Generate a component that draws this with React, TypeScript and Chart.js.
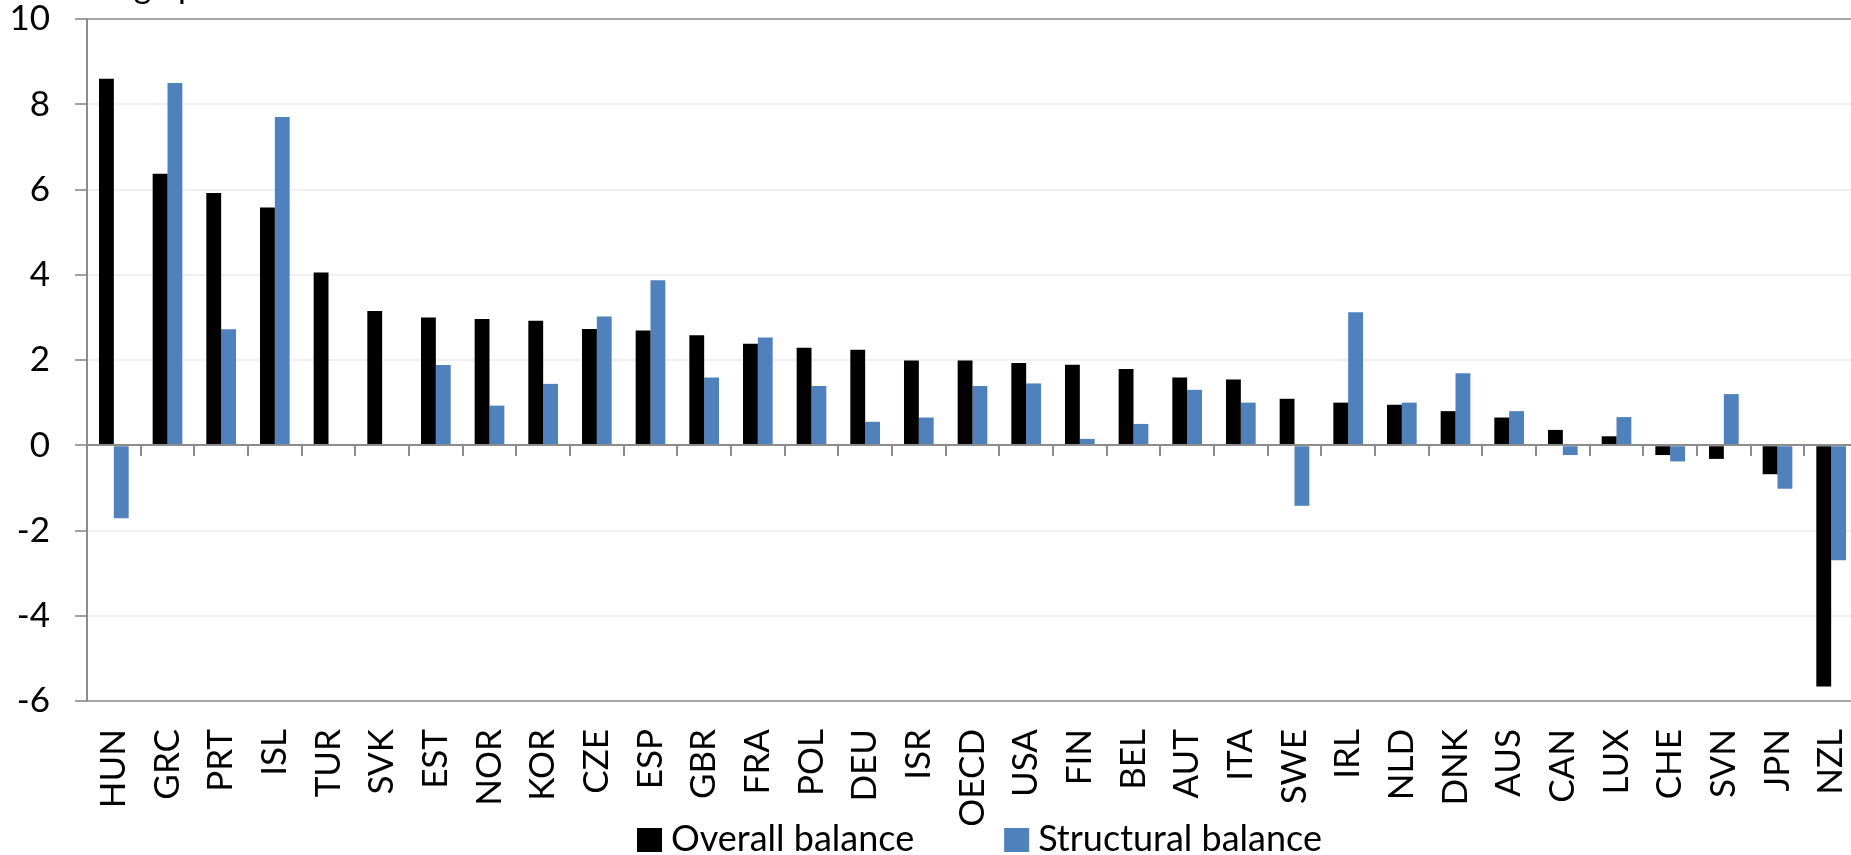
import React, { useEffect, useRef } from 'react';
import { Chart, registerables } from 'chart.js';

Chart.register(...registerables);

// ---- Data ----
const categories = [
  'HUN', 'GRC', 'PRT', 'ISL', 'TUR', 'SVK', 'EST', 'NOR', 'KOR', 'CZE', 'ESP',
  'GBR', 'FRA', 'POL', 'DEU', 'ISR', 'OECD', 'USA', 'FIN', 'BEL', 'AUT', 'ITA',
  'SWE', 'IRL', 'NLD', 'DNK', 'AUS', 'CAN', 'LUX', 'CHE', 'SVN', 'JPN', 'NZL',
];

const overallBalance = [
  8.6, 6.37, 5.92, 5.58, 4.05, 3.15, 3.0, 2.96, 2.92, 2.73, 2.69,
  2.58, 2.38, 2.29, 2.24, 1.99, 1.99, 1.93, 1.89, 1.79, 1.59, 1.54,
  1.09, 1.0, 0.95, 0.8, 0.65, 0.36, 0.21, -0.23, -0.32, -0.68, -5.66,
];

const structuralBalance: (number | null)[] = [
  -1.71, 8.5, 2.72, 7.7, null, null, 1.88, 0.93, 1.44, 3.02, 3.87,
  1.59, 2.53, 1.39, 0.55, 0.65, 1.39, 1.45, 0.15, 0.5, 1.3, 1.0,
  -1.42, 3.12, 1.0, 1.69, 0.8, -0.23, 0.66, -0.38, 1.2, -1.02, -2.7,
];

const seriesLabels = ['Overall balance', 'Structural balance'];
const seriesColors = ['#000000', '#4F81BD'];
const unitLabel = 'Percentage points';
const yMin = -6;
const yMax = 10;
const yStep = 2;

const FONT = 'Lato';

// Category tick marks hanging below the zero line, plus the zero line itself
const zeroAxisPlugin = {
  id: 'zeroAxis',
  afterDatasetsDraw(chart: any) {
    const xs = chart.scales.x;
    const ys = chart.scales.y;
    const ctx = chart.ctx;
    const n = chart.data.labels.length;
    const y0 = Math.round(ys.getPixelForValue(0));
    const step = n > 1 ? xs.getPixelForValue(1) - xs.getPixelForValue(0) : xs.width;
    const first = xs.getPixelForValue(0) - step / 2;
    ctx.save();
    ctx.strokeStyle = '#8c8c8c';
    ctx.lineWidth = 2;
    ctx.beginPath();
    ctx.moveTo(chart.chartArea.left, y0);
    ctx.lineTo(chart.chartArea.right, y0);
    for (let i = 0; i <= n; i++) {
      const px = Math.round(first + i * step);
      ctx.moveTo(px, y0);
      ctx.lineTo(px, y0 + 11);
    }
    ctx.stroke();
    ctx.restore();
  },
};

// Legend along the bottom and the (cut-off) unit label at the top
const textPlugin = {
  id: 'customText',
  afterDraw(chart: any) {
    const ctx = chart.ctx;
    ctx.save();
    // unit label, mostly above the visible area
    ctx.font = `34px ${FONT}`;
    ctx.fillStyle = '#000';
    ctx.textBaseline = 'alphabetic';
    ctx.textAlign = 'left';
    ctx.fillText(unitLabel, 3, -2);

    // legend
    ctx.font = `36px ${FONT}`;
    const box = 24;
    const gapText = 9;
    const gapItem = 90;
    let x = 637;
    const baseY = 851;
    chart.data.datasets.forEach((ds: any) => {
      ctx.fillStyle = ds.backgroundColor;
      ctx.fillRect(x, baseY - box + 1, box + 1, box);
      x += box + 1 + gapText;
      ctx.fillStyle = '#000';
      ctx.fillText(ds.label, x, baseY);
      x += ctx.measureText(ds.label).width + gapItem;
    });
    ctx.restore();
  },
};

export default function App() {
  const ref = useRef<HTMLCanvasElement>(null);

  useEffect(() => {
    if (!ref.current) return;
    const chart = new Chart(ref.current, {
      type: 'bar',
      data: {
        labels: categories,
        datasets: [
          {
            label: seriesLabels[0],
            data: overallBalance,
            backgroundColor: seriesColors[0],
            borderWidth: 0,
            categoryPercentage: 0.553,
            barPercentage: 1,
          },
          {
            label: seriesLabels[1],
            data: structuralBalance,
            backgroundColor: seriesColors[1],
            borderWidth: 0,
            categoryPercentage: 0.553,
            barPercentage: 1,
          },
        ],
      },
      options: {
        responsive: false,
        maintainAspectRatio: false,
        animation: false,
        devicePixelRatio: 1,
        layout: { padding: { top: 19, left: 0, right: 0, bottom: 0 } },
        plugins: {
          legend: { display: false },
          tooltip: { enabled: false },
          title: { display: false },
        },
        scales: {
          x: {
            type: 'category',
            offset: true,
            grid: { display: false, drawTicks: false },
            border: { display: false },
            ticks: {
              autoSkip: false,
              minRotation: 90,
              maxRotation: 90,
              color: '#000',
              padding: 28,
              font: { family: FONT, size: 35 },
            },
            afterFit: (s: any) => {
              s.height = 154;
              s.paddingLeft = 0;
              s.paddingRight = 0;
            },
          },
          y: {
            min: yMin,
            max: yMax,
            ticks: {
              stepSize: yStep,
              color: '#000',
              padding: 25,
              font: { family: FONT, size: 35, lineHeight: 1 },
            },
            grid: {
              drawTicks: true,
              tickLength: 12,
              tickWidth: 2,
              tickColor: '#a0a0a0',
              lineWidth: 2,
              color: (c: any) => {
                const v = c.tick ? c.tick.value : null;
                if (v === yMax || v === yMin) return '#a6a6a6';
                if (v === 0) return '#8c8c8c';
                return '#f0f0f0';
              },
            },
            border: { display: true, color: '#8c8c8c', width: 2 },
            afterFit: (s: any) => {
              s.width = 87;
              s.paddingTop = 0;
              s.paddingBottom = 0;
            },
          },
        },
      },
      plugins: [zeroAxisPlugin, textPlugin],
    });
    return () => chart.destroy();
  }, []);

  return (
    <div
      style={{
        position: 'fixed',
        left: 0,
        top: 0,
        width: 1851,
        height: 855,
        overflow: 'hidden',
        background: '#fff',
      }}
    >
      <canvas
        ref={ref}
        width={1858}
        height={855}
        style={{ display: 'block', width: 1858, height: 855 }}
      />
    </div>
  );
}
